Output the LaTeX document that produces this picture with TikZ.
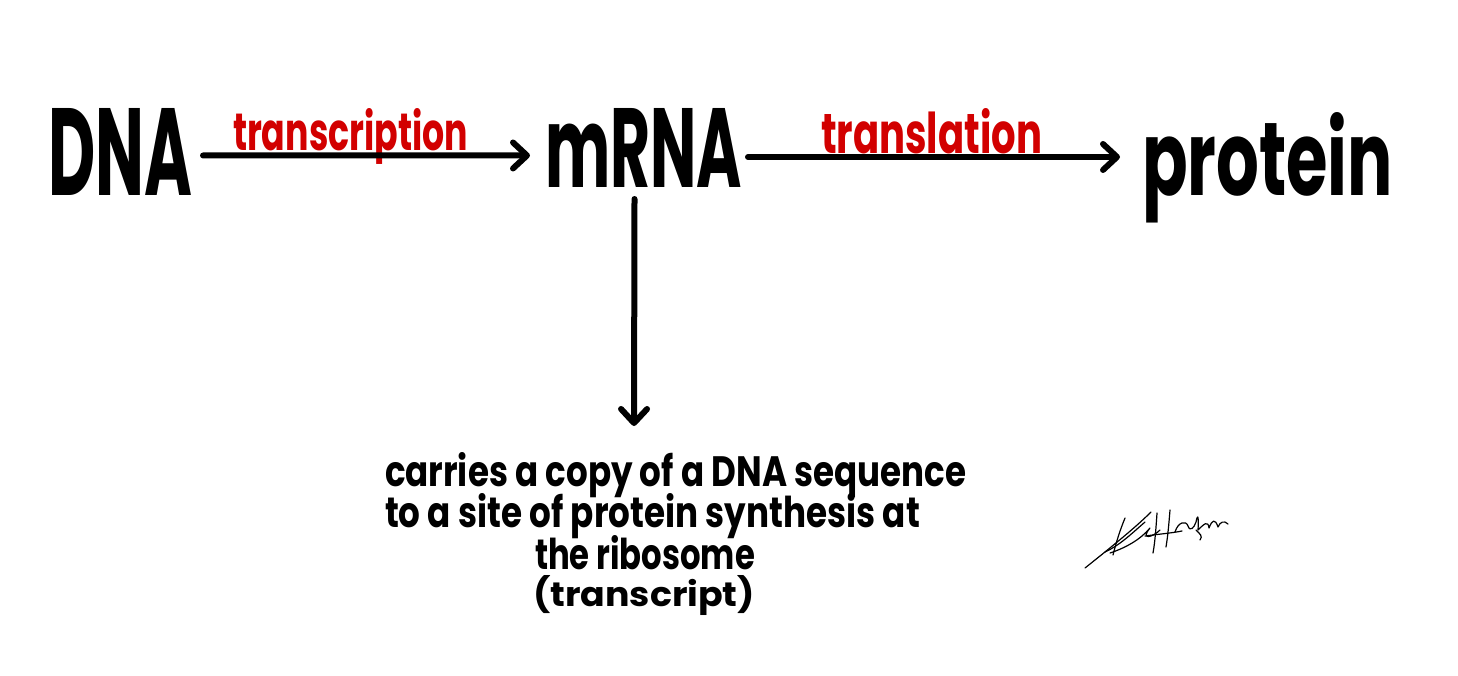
\documentclass[tikz,border=0pt]{standalone}
\usepackage{fontspec}
\setmainfont{Poppins}
\usepackage{graphicx}
\usetikzlibrary{arrows.meta,calc}
\definecolor{inkred}{RGB}{210,0,0}
\newcommand{\fitto}[3]{\resizebox{#1pt}{#2pt}{\bfseries #3}}
\begin{document}
\begin{tikzpicture}[x=1pt,y=-1pt,
  word/.style={inner sep=0pt,outer sep=0pt,anchor=base west},
  redword/.style={word,text=inkred},
  arr/.style={line width=6pt,line cap=round,line join=round,-{Straight Barb[length=14pt,width=26pt,round]}},
  sig/.style={line width=1.2pt,line cap=round,line join=round}]
\useasboundingbox[fill=white] (0,0) rectangle (1458,675);
% main words
\node[word] (dna) at (48,195) {\fitto{144}{87}{DNA}};
\node[redword] (tsc) at (233,150) {\fitto{235}{42}{transcription}};
\node[word] (mrna) at (545,187) {\fitto{197}{79}{mRNA}};
\node[redword] (tsl) at (821,153) {\fitto{221}{45}{translation}};
\node[word] (prot) at (1142,195) {\fitto{251}{83}{protein}};
% description
\node[word] (l1) at (385,486) {\fitto{581}{34}{carries a copy of a DNA sequence}};
\node[word] (l2) at (385,527) {\fitto{535}{34}{to a site of protein synthesis at}};
\node[word] (l3) at (535,569) {\fitto{220}{34}{the ribosome}};
\node[word] (l4) at (533,606) {\fitto{222}{31}{(transcript)}};
\coordinate (vt) at (634,426);
% arrows
\draw[arr] ([shift={(11,4)}]dna.east) -- ([shift={(-15,8)}]mrna.west);
\draw[arr] ([shift={(6,9.5)}]mrna.east) coordinate (s2) -- ($(prot.west |- s2)+(-22,0)$);
\draw[arr] ([shift={(-9,12)}]mrna.south) -- (vt);
% signature
\draw[sig] (1085,568) .. controls (1110,548) and (1135,528) .. (1151,512);
\draw[sig] (1125,518) .. controls (1120,530) and (1116,543) .. (1113,555);
\draw[sig] (1105,552) .. controls (1120,545) and (1130,535) .. (1145,522);
\draw[sig] (1110,553) .. controls (1125,548) and (1140,540) .. (1150,528)
           .. controls (1140,540) and (1152,538) .. (1160,530);
\draw[sig] (1157,513) .. controls (1156,528) and (1155,542) .. (1153,553);
\draw[sig] (1170,510) .. controls (1169,522) and (1168,535) .. (1166,547);
\draw[sig] (1145,536) .. controls (1160,534) and (1172,533) .. (1182,531);
\draw[sig] (1175,532) .. controls (1178,522) and (1186,520) .. (1188,526)
           .. controls (1190,532) and (1194,528) .. (1196,522)
           .. controls (1197,516) and (1199,512) .. (1198,530)
           .. controls (1204,524) and (1208,520) .. (1209,528)
           .. controls (1212,520) and (1215,518) .. (1218,527)
           .. controls (1220,522) and (1224,520) .. (1228,524);
\draw[sig] (1196,530) .. controls (1200,534) and (1203,536) .. (1200,540);
\end{tikzpicture}
\end{document}
